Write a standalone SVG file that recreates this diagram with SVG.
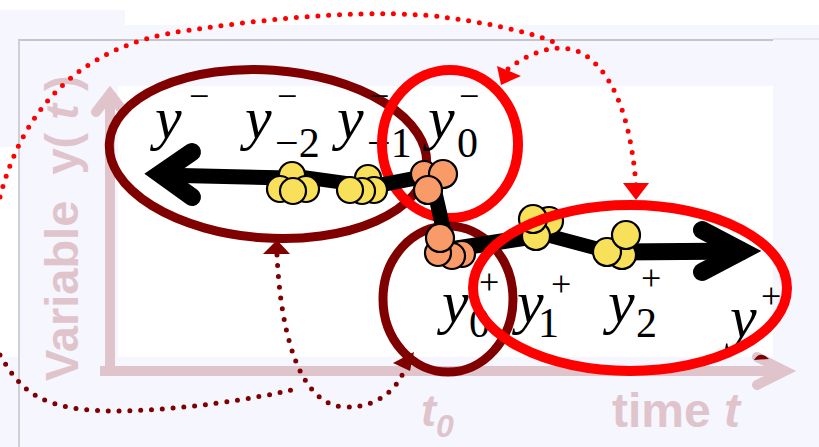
<svg xmlns="http://www.w3.org/2000/svg" width="819" height="447" viewBox="0 0 819 447">
<defs>
<style>
.bg{fill:#f6f6fe}
.axis{stroke:#dfc4cc;stroke-width:10;fill:none}
.axt{font-family:"Liberation Sans",Arial,sans-serif;font-weight:bold;fill:#dfc4cc;white-space:pre}
.v{font-family:"Liberation Serif","Times New Roman",serif;font-style:italic;font-size:60px;fill:#000}
.sp{font-family:"Liberation Serif","Times New Roman",serif;font-size:36px;fill:#000}
.sb{font-family:"Liberation Serif","Times New Roman",serif;font-size:42px;fill:#000}
.dr{fill:none;stroke:#800000;stroke-width:9}
.rd{fill:none;stroke:#ff0000;stroke-width:10}
.seg{stroke:#000;fill:none}
.yd{fill:#f9e05a;stroke:#000;stroke-width:2.2}
.od{fill:#f99b68;stroke:#000;stroke-width:2.2}
.dotr{fill:none;stroke:#ff0000;stroke-width:5;stroke-linecap:round;stroke-dasharray:0 10.8}
.dotd{fill:none;stroke:#800000;stroke-width:5;stroke-linecap:round;stroke-dasharray:0 10.8}
</style>
</defs>
<g id="background">
<rect width="819" height="447" fill="#fff"/>
<rect x="0" y="10" width="125" height="137" class="bg"/>
<rect x="125" y="25" width="694" height="422" class="bg"/>
<rect x="18" y="147" width="107" height="300" class="bg"/>
<rect x="0" y="357" width="18" height="90" class="bg"/>
<rect x="118" y="86" width="655" height="271" fill="#fff"/>
<path d="M18,40 H773" stroke="#c5c6cc" stroke-width="2"/>
<path d="M773,39 H819" stroke="#d3d4dc" stroke-width="1"/>
<path d="M19,40 V447" stroke="#cfd0d6" stroke-width="2"/>
</g>
<g id="axes">
<path class="axis" d="M110,376 V96"/>
<path class="axis" d="M96,112 L110,94 L124,112" stroke-linecap="round"/>
<path class="axis" d="M100,371 H780"/>
<path class="axis" d="M757,357 L785,371 L757,385" stroke-linecap="round"/>
<text class="axt" font-size="47" transform="translate(78,381) rotate(-90)">Variable  y( <tspan font-style="italic">t</tspan> )</text>
<text class="axt" font-size="45" x="421" y="426" font-style="italic">t<tspan font-size="32" dy="11">0</tspan></text>
<text class="axt" font-size="48" x="612" y="427">time <tspan font-style="italic">t</tspan></text>
</g>
<g id="node-past-ellipse">
<ellipse class="dr" cx="268" cy="154" rx="159" ry="84" transform="rotate(4 268 154)"/>
</g>
<g id="labels">
<text class="v" x="155" y="138">y</text><text class="sp" x="189" y="108">−</text>
<text class="v" x="245" y="138">y</text><text class="sp" x="277" y="108">−</text><text class="sb" x="275" y="157">−2</text>
<text class="v" x="337" y="138">y</text><text class="sp" x="369" y="108">−</text><text class="sb" x="367" y="157">−1</text>
<text class="v" x="428" y="138">y</text><text class="sp" x="459" y="108">−</text><text class="sb" x="457" y="157">0</text>
<text class="v" x="442" y="322">y</text><text class="sp" x="479" y="294">+</text><text class="sb" x="469" y="337">0</text>
<text class="v" x="517" y="322">y</text><text class="sp" x="551" y="296">+</text><text class="sb" x="538" y="337">1</text>
<text class="v" x="608" y="322">y</text><text class="sp" x="641" y="290">+</text><text class="sb" x="636" y="337">2</text>
<text class="v" x="730" y="337">y</text><text class="sp" x="761" y="308">+</text>
</g>
<g id="node-y0minus-circle">
<ellipse class="rd" cx="450" cy="144" rx="68" ry="74"/>
</g>
<g id="node-y0plus-circle">
<ellipse class="dr" cx="448" cy="299" rx="65" ry="73"/>
</g>
<g id="trajectory">
<path class="seg" stroke-width="15" d="M160,175 L290,178"/>
<path class="seg" stroke-width="18" stroke-linecap="round" stroke-linejoin="miter" stroke-miterlimit="10" d="M192,152 L160,174 L192,197"/>
<path class="seg" stroke-width="14" d="M295,176 L360,185"/>
<path class="seg" stroke-width="15" d="M370,187 L432,175"/>
<path class="seg" stroke-width="15" d="M432,180 L447,245"/>
<path class="seg" stroke-width="16" d="M447,250 L530,237"/>
<path class="seg" stroke-width="14" d="M535,232 L610,252"/>
<path class="seg" stroke-width="17" d="M620,252 L745,251"/>
<path class="seg" stroke-width="18" stroke-linecap="round" stroke-linejoin="miter" stroke-miterlimit="10" d="M702,230 L742,251 L702,272"/>
<circle class="yd" cx="292" cy="175" r="13"/><circle class="yd" cx="280" cy="189" r="13"/><circle class="yd" cx="306" cy="189" r="13"/><circle class="yd" cx="293" cy="191" r="13"/>
<circle class="yd" cx="368" cy="178" r="13"/><circle class="yd" cx="374" cy="190" r="13"/><circle class="yd" cx="362" cy="191" r="13"/><circle class="yd" cx="350" cy="190" r="13"/>
<circle class="od" cx="424" cy="174" r="13"/><circle class="od" cx="443" cy="174" r="14"/><circle class="od" cx="428" cy="190" r="14"/>
<circle class="od" cx="462" cy="254" r="13"/><circle class="od" cx="452" cy="256" r="13"/><circle class="od" cx="438" cy="253" r="13"/><circle class="od" cx="440" cy="238" r="14"/>
<circle class="yd" cx="549" cy="221" r="14"/><circle class="yd" cx="536" cy="236" r="14"/><circle class="yd" cx="533" cy="219" r="14"/>
<circle class="yd" cx="622" cy="255" r="14"/><circle class="yd" cx="607" cy="252" r="14"/><circle class="yd" cx="626" cy="235" r="14"/>
</g>
<g id="node-future-ellipse">
<ellipse class="rd" cx="630" cy="288" rx="157" ry="83"/>
</g>
<g id="connectors">
<path class="dotr" d="M0,197 C20,120 70,45 190,30 C280,17 380,8 450,18 C500,25 540,35 560,45"/>
<path class="dotr" d="M508,69 C535,48 565,42 585,55 C610,72 630,110 636,185"/>
<polygon fill="#ff0000" points="497,66 521,76 501,85"/>
<polygon fill="#ff0000" points="623,183 649,183 636,200"/>
<path class="dotd" d="M277,255 C280,320 295,405 345,407 C385,408 402,380 405,367"/>
<path class="dotd" d="M0,355 C20,390 40,410 110,411 C180,411 260,398 300,388"/>
<polygon fill="#800000" points="263,254 290,254 277,240"/>
<polygon fill="#800000" points="393,363 414,352 410,371"/>
<path d="M754,360 Q760,350 769,359 Z" fill="#800000"/>
</g>
</svg>
